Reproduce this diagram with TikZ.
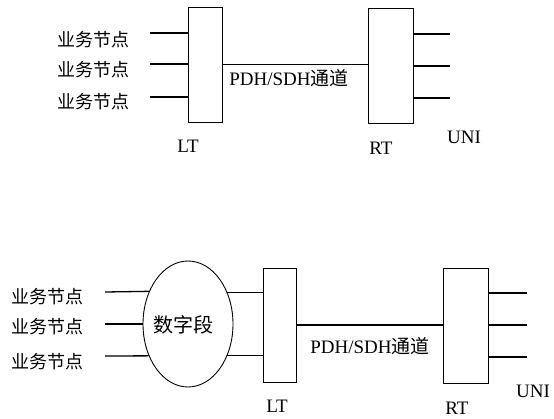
\documentclass[tikz,border=0pt]{standalone}
\usepackage{fontspec}
\setmainfont{Liberation Serif}
\newfontfamily\cjk{Noto Sans CJK SC}
\usetikzlibrary{shapes.geometric}
\begin{document}
\begin{tikzpicture}[x=1pt,y=-1pt,
  box/.style={draw,line width=0.9pt,inner sep=0pt,minimum width=#1,minimum height=115pt},
  conn/.style={line width=1.3pt},
  lbl/.style={font=\cjk\fontsize{18}{20}\selectfont,inner sep=0pt},
  tag/.style={font=\fontsize{19}{21}\selectfont,inner sep=0pt},
  chan/.style={font=\fontsize{19}{21}\selectfont,inner sep=0pt}]
\useasboundingbox (0,0) rectangle (554,418);
\clip (0,0) rectangle (554,418);
% ---------- top ----------
\node[box=34pt] (lt1) at (205,64.5) {};
\node[box=45pt] (rt1) at (390.5,65.5) {};
\foreach \i/\y in {1/33,2/64,3/97}{
  \coordinate (ti\i) at (150,\y);
  \draw[conn] (ti\i) -- (ti\i -| lt1.west);
}
\node[lbl] (tb1) at (93.5,40) {业务节点};
\node[lbl] (tb2) at (93.5,70) {业务节点};
\node[lbl] (tb3) at (93.5,102) {业务节点};
\draw[conn] (lt1.east |- 0,64.5) -- (rt1.west |- 0,64.5);
\foreach \i/\y in {1/34,2/66,3/98}{
  \coordinate (to\i) at (450,\y);
  \draw[conn] (to\i -| rt1.east) -- (to\i);
}
\node[chan] (tch) at (289,78) {PDH/SDH{\cjk 通道}};
\node[tag] (tlt) at (188,146) {LT};
\node[tag] (trt) at (381,148) {RT};
\node[tag] (tuni) at (464,137) {UNI};
% ---------- bottom ----------
\node[ellipse,draw,line width=0.9pt,inner sep=0pt,minimum width=90pt,minimum height=126pt] (e) at (188,324) {};
\node[font=\cjk\fontsize{20}{22}\selectfont,inner sep=0pt] (es) at (183,325) {数字段};
\node[box=33pt,minimum height=114pt] (lt2) at (279.5,325) {};
\node[box=45pt] (rt2) at (465.5,325.5) {};
\coordinate (bi1) at (105,292);
\coordinate (bi2) at (105,324);
\coordinate (bi3) at (105,356);
\draw[conn] (bi1) -- (e.140.5);
\draw[conn] (bi2) -- (e.west);
\draw[conn] (bi3) -- (e.219.5);
\draw[conn] (e.39.5) -- (e.39.5 -| lt2.west);
\draw[conn] (e.-39.5) -- (e.-39.5 -| lt2.west);
\node[lbl] (bb1) at (47.5,297) {业务节点};
\node[lbl] (bb2) at (47.5,327) {业务节点};
\node[lbl] (bb3) at (47.5,362) {业务节点};
\draw[conn] (lt2.east |- 0,325) -- (rt2.west |- 0,325);
\foreach \i/\y in {1/293,2/325,3/357}{
  \coordinate (bo\i) at (527,\y);
  \draw[conn] (bo\i -| rt2.east) -- (bo\i);
}
\node[chan] (bch) at (370,346) {PDH/SDH{\cjk 通道}};
\node[tag] (blt) at (277,406) {LT};
\node[tag] (brt) at (457,408) {RT};
\node[tag,anchor=west] (buni) at (516,391) {UNI};
\end{tikzpicture}
\end{document}
